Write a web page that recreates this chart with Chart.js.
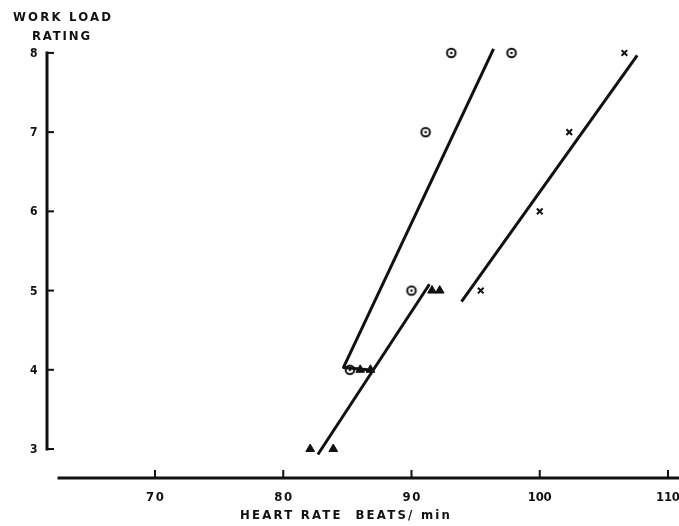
<!DOCTYPE html>
<html>
<head>
<meta charset="utf-8">
<script src="https://cdn.jsdelivr.net/npm/chart.js@4/dist/chart.umd.min.js"></script>
<style>
  html, body { margin: 0; padding: 0; background: #fff; overflow: hidden; }
  #wrap { position: relative; width: 679px; height: 526px; }
</style>
</head>
<body>
<div id="wrap"><canvas id="c" width="679" height="526"></canvas></div>
<script>
// ---- data ----
const xTicks = [70, 80, 90, 100, 110];
const yTicks = [3, 4, 5, 6, 7, 8];

const circleX = [93.1, 97.8, 91.1, 90.0, 85.2];
const circleY = [8, 8, 7, 5, 4];

const triangleX = [82.1, 83.9, 86.0, 86.8, 91.6, 92.2];
const triangleY = [3, 3, 4, 4, 5, 5];

const crossX = [106.6, 102.3, 100.0, 95.4];
const crossY = [8, 7, 6, 5];

const circleLineX = [96.4, 84.7, 86.6];
const circleLineY = [8.05, 4.03, 4.0];

const triangleLineX = [82.7, 91.4];
const triangleLineY = [2.93, 5.08];

const crossLineX = [93.9, 107.6];
const crossLineY = [4.86, 7.97];

const xTitle = "HEART RATE  BEATS/ min";
const yTitle1 = "WORK LOAD";
const yTitle2 = "RATING";

// ---- helpers ----
const pts = (xs, ys) => xs.map((x, i) => ({ x: x, y: ys[i] }));
const INK = "#111";
const FONT = "'DejaVu Sans Condensed', 'DejaVu Sans'";

function makeCircleDot() {
  const c = document.createElement("canvas");
  c.width = 14; c.height = 14;
  const g = c.getContext("2d");
  g.strokeStyle = INK; g.lineWidth = 2;
  g.beginPath(); g.arc(7, 7, 4.3, 0, Math.PI * 2); g.stroke();
  g.fillStyle = INK;
  g.beginPath(); g.arc(7, 7, 1.3, 0, Math.PI * 2); g.fill();
  return c;
}

function fitText(ctx, text, cx, cy, targetW) {
  ctx.letterSpacing = "0px";
  const n = text.length;
  const w = ctx.measureText(text).width;
  const sp = n > 1 ? (targetW - w) / (n - 1) : 0;
  ctx.letterSpacing = sp.toFixed(2) + "px";
  ctx.textAlign = "left";
  ctx.fillText(text, cx - targetW / 2, cy);
  ctx.letterSpacing = "0px";
}

const axesPlugin = {
  id: "axesPlugin",
  afterDraw(chart) {
    const ctx = chart.ctx;
    const xs = chart.scales.x, ys = chart.scales.y;
    const ca = chart.chartArea;
    ctx.save();
    ctx.strokeStyle = INK;
    ctx.fillStyle = INK;
    ctx.lineCap = "butt";

    // y axis line
    const yAx = ca.left;
    ctx.lineWidth = 3;
    ctx.beginPath();
    ctx.moveTo(yAx, ys.getPixelForValue(yTicks[yTicks.length - 1]) - 1.5);
    ctx.lineTo(yAx, ys.getPixelForValue(yTicks[0]) + 1.5);
    ctx.stroke();
    // y ticks
    ctx.lineWidth = 2;
    ctx.font = "bold 12px " + FONT;
    ctx.textBaseline = "middle";
    yTicks.forEach(v => {
      const py = ys.getPixelForValue(v);
      ctx.beginPath();
      ctx.moveTo(yAx, py); ctx.lineTo(yAx + 7, py);
      ctx.stroke();
      fitText(ctx, String(v), yAx - 13, py + 1, 8);
    });

    // x axis line
    const xAy = ca.bottom;
    ctx.lineWidth = 3;
    ctx.beginPath();
    ctx.moveTo(xs.getPixelForValue(62.4), xAy);
    ctx.lineTo(chart.width + 5, xAy);
    ctx.stroke();
    ctx.lineWidth = 2;
    xTicks.forEach(v => {
      const px = xs.getPixelForValue(v);
      ctx.beginPath();
      ctx.moveTo(px, xAy); ctx.lineTo(px, xAy - 8);
      ctx.stroke();
      const t = String(v);
      ctx.font = "bold 13px " + FONT;
      fitText(ctx, t, px, xAy + 20, t.length === 2 ? 18 : 24);
    });

    // titles
    ctx.textBaseline = "middle";
    ctx.font = "bold 13px " + FONT;
    fitText(ctx, yTitle1, 62, 18, 98);
    fitText(ctx, yTitle2, 61, 37, 58);
    fitText(ctx, xTitle, 345, 516, 210);
    ctx.restore();
  }
};

const circleImg = makeCircleDot();

new Chart(document.getElementById("c"), {
  type: "scatter",
  data: {
    datasets: [
      { data: pts(circleLineX, circleLineY), showLine: true, borderColor: INK, borderWidth: 3, pointRadius: 0, clip: false, borderJoinStyle: "round" },
      { data: pts(triangleLineX, triangleLineY), showLine: true, borderColor: INK, borderWidth: 3, pointRadius: 0, clip: false },
      { data: pts(crossLineX, crossLineY), showLine: true, borderColor: INK, borderWidth: 3, pointRadius: 0, clip: false },
      { data: pts(circleX, circleY), pointStyle: circleImg, pointRadius: 5, clip: false },
      { data: pts(triangleX, triangleY), pointStyle: "triangle", pointRadius: 5, backgroundColor: INK, borderColor: INK, borderWidth: 1, clip: false },
      { data: pts(crossX, crossY), pointStyle: "crossRot", pointRadius: 4, borderColor: INK, borderWidth: 2, clip: false }
    ]
  },
  options: {
    responsive: false,
    animation: false,
    devicePixelRatio: 1,
    layout: { padding: { left: 47, right: 0, top: 45, bottom: 48 } },
    plugins: { legend: { display: false }, tooltip: { enabled: false } },
    scales: {
      x: {
        type: "linear", display: false, min: 61.58, max: 110.39,
        afterBuildTicks: s => { s.ticks = xTicks.map(v => ({ value: v })); }
      },
      y: {
        type: "linear", display: false, min: 2.634, max: 8.1,
        afterBuildTicks: s => { s.ticks = yTicks.map(v => ({ value: v })); }
      }
    }
  },
  plugins: [axesPlugin]
});
</script>
</body>
</html>
